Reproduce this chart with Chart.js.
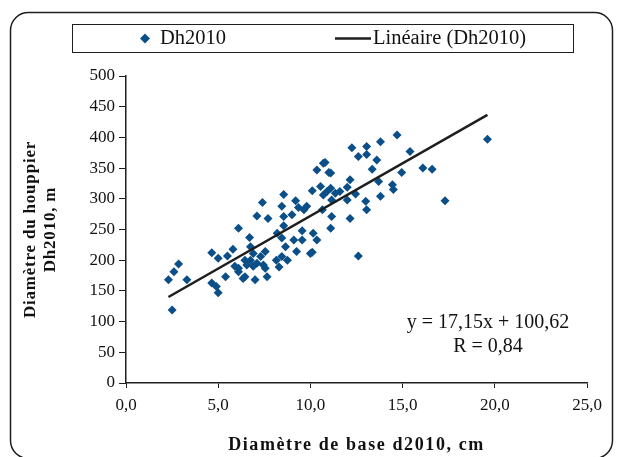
<!DOCTYPE html>
<html>
<head>
<meta charset="utf-8">
<script src="https://cdn.jsdelivr.net/npm/chart.js@4/dist/chart.umd.min.js"></script>
<style>
	html, body { margin: 0; padding: 0; background: #fff; }
	canvas { display: block; }
</style>
</head>
<body>
<canvas id="grafico" width="619" height="457"></canvas>
<script>
// diamètre de base d2010 (cm) et diamètre du houppier Dh2010
var diametreBase = [
	2.3, 2.6, 2.85, 3.3, 2.5, 4.65, 5.0, 5.5, 5.8, 6.1, 6.7, 4.65, 4.9, 5.0, 5.4, 5.9, 6.1, 6.45, 6.55, 6.75,
	6.75, 6.9, 7.1, 7.0, 7.3, 7.55, 7.55, 7.65, 7.1, 7.4, 7.7, 8.2, 8.15, 8.3, 8.45, 8.65, 8.75, 8.45, 8.55, 8.55,
	8.45, 8.55, 9.0, 9.2, 9.35, 9.65, 9.8, 9.1, 9.25, 9.55, 9.55, 10.0, 10.15, 10.35, 10.1, 10.35, 10.55, 10.7, 10.7, 10.9,
	11.1, 11.1, 10.65, 11.15, 11.1, 11.35, 11.6, 12.0, 12.15, 12.15, 12.25, 12.6, 12.6, 12.45, 13.0, 13.05, 13.05, 13.05, 13.35, 13.6,
	13.8, 13.7, 13.8, 14.45, 14.5, 14.7, 15.4, 14.95, 16.1, 16.6, 17.3, 19.6, 12.0, 10.8, 11.0, 11.15, 10.1, 6.1, 6.45, 6.9,
	7.45, 6.35
];
var diametreHouppier = [
	168, 181, 194, 168, 119, 212, 203, 207, 218, 252, 237, 163, 157, 147, 173, 190, 181, 173, 192, 200,
	222, 211, 195, 168, 206, 214, 187, 173, 272, 294, 268, 244, 200, 189, 206, 222, 200, 236, 256, 271,
	288, 307, 274, 297, 286, 282, 288, 233, 214, 248, 233, 211, 244, 233, 313, 347, 320, 358, 306, 312,
	342, 317, 282, 271, 252, 309, 312, 298, 331, 268, 383, 369, 207, 308, 296, 282, 385, 372, 348, 363,
	393, 328, 304, 323, 315, 404, 377, 343, 350, 348, 297, 397, 319, 359, 343, 298, 213, 187, 200, 190,
	192, 170
];

// courbe de tendance linéaire
var pente = 17.15;
var ordonnee = 100.62;
var coefR = 0.84;

var bleu = '#0b4f88';
var noir = '#1e1e1e';
var police = "'Liberation Serif', 'Times New Roman', serif";

function virgule(v, dec) {
	return v.toFixed(dec).replace('.', ',');
}

var punti = diametreBase.map(function(x, i) {
	return {x: x, y: diametreHouppier[i]};
});

var xMin = Math.min.apply(null, diametreBase);
var xMax = Math.max.apply(null, diametreBase);
var tendance = [
	{x: xMin, y: pente * xMin + ordonnee},
	{x: xMax, y: pente * xMax + ordonnee}
];

// titres d'axes un peu espacés
function espaceTitre(scale, ecart) {
	if (scale._espace) return;
	var orig = scale.drawTitle;
	scale.drawTitle = function() {
		this.ctx.save();
		this.ctx.letterSpacing = ecart;
		orig.apply(this, arguments);
		this.ctx.restore();
	};
	scale._espace = true;
}

// cadre arrondi, légende encadrée et équation
var cadre = {
	id: 'cadre',
	afterLayout: function(chart) {
		espaceTitre(chart.scales.x, '1.6px');
		espaceTitre(chart.scales.y, '0.8px');
	},
	beforeDraw: function(chart) {
		var ctx = chart.ctx;
		ctx.save();
		ctx.strokeStyle = noir;
		ctx.lineWidth = 1.5;
		ctx.beginPath();
		ctx.roundRect(10.5, 12.5, 602, 446, 18);
		ctx.stroke();
		ctx.restore();
	},
	afterDraw: function(chart) {
		var ctx = chart.ctx;
		var area = chart.chartArea;
		ctx.save();

		ctx.strokeStyle = noir;
		ctx.lineWidth = 1;
		ctx.strokeRect(72.5, 24.5, 501, 28);

		ctx.fillStyle = bleu;
		Chart.helpers.drawPoint(ctx, {pointStyle: 'rectRot', radius: 5, rotation: 0, borderWidth: 0}, 145, 38.5);

		ctx.strokeStyle = noir;
		ctx.lineWidth = 2.5;
		ctx.beginPath();
		ctx.moveTo(335, 38.5);
		ctx.lineTo(371, 38.5);
		ctx.stroke();

		ctx.fillStyle = '#111';
		ctx.font = '20.5px ' + police;
		ctx.textBaseline = 'middle';
		ctx.textAlign = 'left';
		ctx.fillText(chart.data.datasets[0].label, 160, 39);
		ctx.fillText(chart.data.datasets[1].label, 373, 39);

		// équation de la droite
		ctx.font = '20px ' + police;
		ctx.textAlign = 'center';
		var cx = area.right - 99;
		ctx.fillText('y = ' + virgule(pente, 2) + 'x + ' + virgule(ordonnee, 2), cx, 323);
		ctx.fillText('R = ' + virgule(coefR, 2), cx, 347);
		ctx.restore();
	}
};

var ctx = document.getElementById('grafico').getContext('2d');
var grafico = new Chart(ctx, {
	type: 'scatter',
	data: {
		datasets: [{
			label: 'Dh2010',
			data: punti,
			pointStyle: 'rectRot',
			pointRadius: 4.5,
			borderWidth: 0,
			backgroundColor: bleu,
			order: 2
		}, {
			type: 'line',
			label: 'Linéaire (Dh2010)',
			data: tendance,
			borderColor: noir,
			borderWidth: 2.5,
			pointRadius: 0,
			fill: false,
			order: 1
		}]
	},
	options: {
		responsive: false,
		animation: false,
		layout: {padding: {left: 10, top: 76, right: 32, bottom: 0}},
		plugins: {
			legend: {display: false},
			tooltip: {enabled: false}
		},
		scales: {
			x: {
				type: 'linear',
				min: 0,
				max: 25,
				afterFit: function(s) { s.height = 74; },
				ticks: {
					stepSize: 5,
					padding: 7,
					color: '#111',
					font: {family: police, size: 17},
					callback: function(v) { return virgule(v, 1); }
				},
				grid: {drawOnChartArea: false, tickLength: 5, color: noir, lineWidth: 1},
				border: {color: noir, width: 1.5},
				title: {
					display: true,
					text: 'Diamètre de base d2010, cm',
					color: '#111',
					font: {family: police, size: 18, weight: 'bold'},
					padding: {top: 0, bottom: 1}
				}
			},
			y: {
				min: 0,
				max: 500,
				afterFit: function(s) { s.width = 116; },
				ticks: {
					stepSize: 50,
					padding: 4,
					color: '#111',
					font: {family: police, size: 17}
				},
				grid: {drawOnChartArea: false, tickLength: 7, color: noir, lineWidth: 1},
				border: {color: noir, width: 1.5},
				title: {
					display: true,
					text: ['Diamètre du houppier', 'Dh2010, m'],
					color: '#111',
					font: {family: police, size: 17, weight: 'bold', lineHeight: 1.15},
					padding: {top: 11, bottom: 0}
				}
			}
		}
	},
	plugins: [cadre]
});
</script>
</body>
</html>
